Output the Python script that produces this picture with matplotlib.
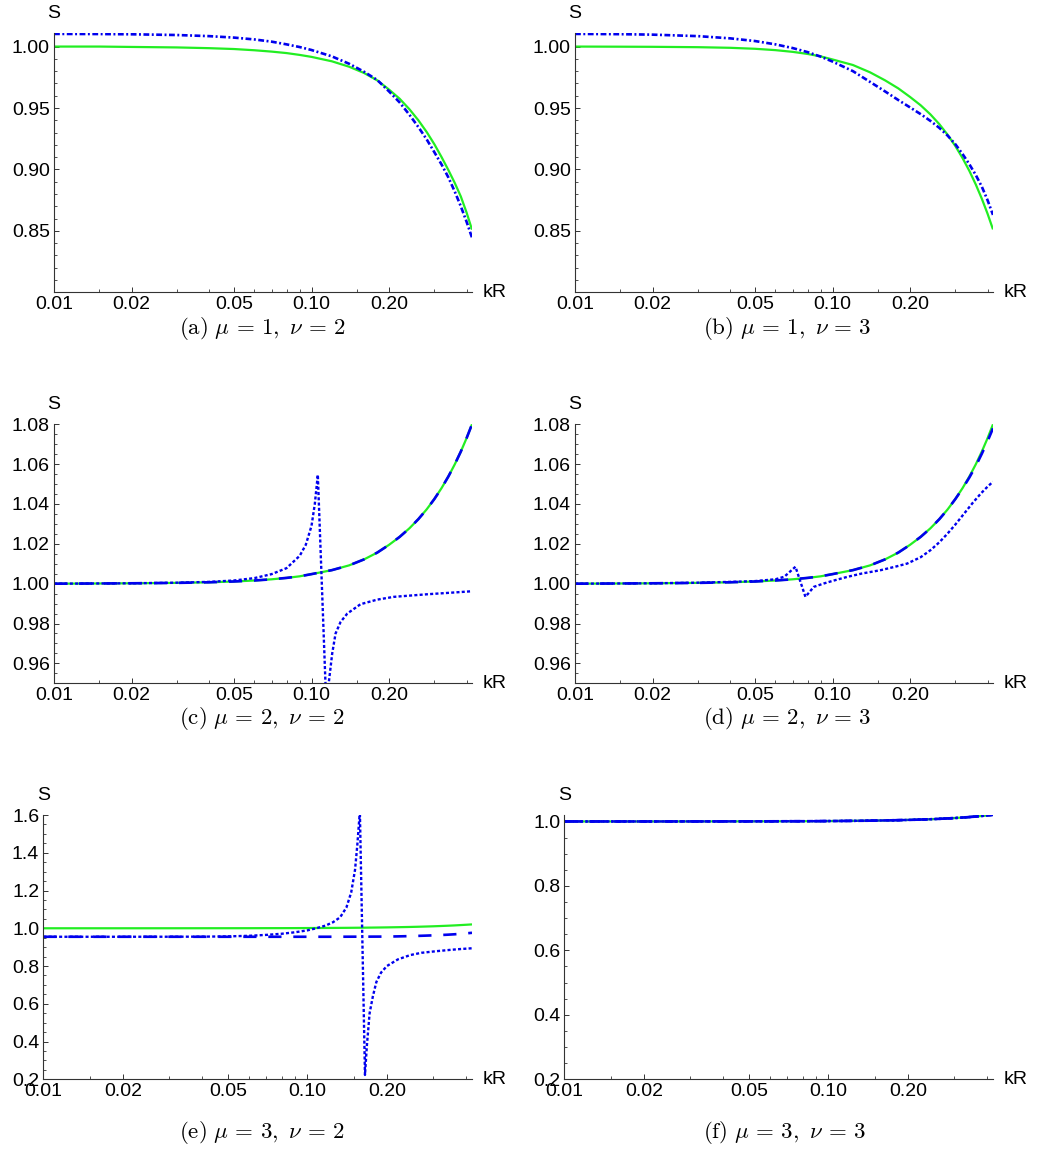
import numpy as np
import matplotlib
matplotlib.use('Agg')
import matplotlib.pyplot as plt
from matplotlib.ticker import FixedLocator, FixedFormatter, MultipleLocator, NullFormatter

plt.rcParams['font.family'] = ['Liberation Sans', 'DejaVu Sans']
plt.rcParams['mathtext.fontset'] = 'cm'
plt.rcParams['lines.scale_dashes'] = False

# common kR grid for the smooth curves
kr = [0.01, 0.015, 0.02, 0.03, 0.04, 0.05, 0.06, 0.07, 0.08, 0.09, 0.10,
      0.12, 0.14, 0.16, 0.18, 0.20, 0.22, 0.24, 0.26, 0.28, 0.30,
      0.32, 0.34, 0.36, 0.38, 0.40, 0.42]

# (a) mu=1, nu=2
exact_a = [1.0000, 1.0000, 0.9997, 0.9993, 0.9987, 0.9980, 0.9970, 0.9959, 0.9947, 0.9932, 0.9916,
           0.9880, 0.9836, 0.9785, 0.9725, 0.9650, 0.9575, 0.9490, 0.9400, 0.9305, 0.9205,
           0.9100, 0.8995, 0.8890, 0.8780, 0.8650, 0.8510]
approx_a = [1.0103, 1.0102, 1.0100, 1.0094, 1.0085, 1.0073, 1.0058, 1.0040, 1.0018, 0.9996, 0.9972,
            0.9920, 0.9860, 0.9795, 0.9728, 0.9635, 0.9545, 0.9445, 0.9345, 0.9245, 0.9140,
            0.9040, 0.8935, 0.8820, 0.8700, 0.8575, 0.8445]

# (b) mu=1, nu=3
exact_b = [1.0000, 0.9999, 0.9998, 0.9995, 0.9990, 0.9982, 0.9971, 0.9957, 0.9940, 0.9920, 0.9895,
           0.9850, 0.9790, 0.9725, 0.9660, 0.9590, 0.9522, 0.9448, 0.9368, 0.9282, 0.9190,
           0.9092, 0.8988, 0.8878, 0.8762, 0.8640, 0.8512]
approx_b = [1.0103, 1.0101, 1.0097, 1.0085, 1.0067, 1.0045, 1.0018, 0.9988, 0.9955, 0.9918, 0.9878,
            0.9800, 0.9712, 0.9635, 0.9565, 0.9505, 0.9450, 0.9395, 0.9338, 0.9275, 0.9205,
            0.9125, 0.9042, 0.8955, 0.8860, 0.8750, 0.8630]

# (c), (d) mu=2
exact_cd = [1.0000, 1.0001, 1.0002, 1.0004, 1.0007, 1.0011, 1.0016, 1.0022, 1.0029, 1.0037, 1.0048,
            1.0068, 1.0092, 1.0122, 1.0156, 1.0195, 1.0235, 1.0278, 1.0324, 1.0373, 1.0425,
            1.0480, 1.0538, 1.0599, 1.0663, 1.0730, 1.0800]
dashed_d = [1.0000, 1.0001, 1.0002, 1.0004, 1.0007, 1.0011, 1.0016, 1.0022, 1.0029, 1.0037, 1.0048,
            1.0068, 1.0092, 1.0122, 1.0156, 1.0195, 1.0235, 1.0278, 1.0324, 1.0373, 1.0425,
            1.0478, 1.0533, 1.0590, 1.0652, 1.0715, 1.0780]

kr_dot_c = [0.01, 0.02, 0.03, 0.04, 0.05, 0.06, 0.07, 0.08, 0.09, 0.095, 0.10, 0.103, 0.1058,
            0.1133, 0.115, 0.1168, 0.1203, 0.124, 0.1297, 0.1377, 0.155, 0.18, 0.209, 0.282, 0.35, 0.42]
dot_c = [1.0000, 1.0002, 1.0005, 1.0009, 1.0016, 1.0028, 1.0048, 1.0078, 1.0140, 1.0195, 1.0290, 1.0400, 1.0547,
         0.9500, 0.9350, 0.9507, 0.9649, 0.9750, 0.9808, 0.9850, 0.9897, 0.9920, 0.9934, 0.9947, 0.9955, 0.9962]

kr_dot_d = [0.01, 0.02, 0.03, 0.04, 0.05, 0.06, 0.065, 0.0718, 0.0785, 0.0846, 0.0925, 0.10, 0.114,
            0.13, 0.154, 0.175, 0.195, 0.22, 0.24, 0.26, 0.28, 0.30, 0.325, 0.35, 0.377, 0.40, 0.42]
dot_d = [1.0000, 1.0002, 1.0005, 1.0009, 1.0013, 1.0022, 1.0035, 1.0085, 0.9934, 0.9984, 1.0001, 1.0014, 1.0034,
         1.0051, 1.0068, 1.0085, 1.0101, 1.0133, 1.0168, 1.0208, 1.0252, 1.0297, 1.0353, 1.0405, 1.0453, 1.0487, 1.0512]

# (e), (f) mu=3
exact_ef = [1.0000, 1.0000, 1.0000, 1.0001, 1.0002, 1.0003, 1.0004, 1.0006, 1.0007, 1.0009, 1.0012,
            1.0017, 1.0023, 1.0030, 1.0038, 1.0047, 1.0057, 1.0067, 1.0079, 1.0092, 1.0105,
            1.0120, 1.0135, 1.0151, 1.0169, 1.0187, 1.0205]
dashed_e = [0.9550, 0.9550, 0.9550, 0.9550, 0.9550, 0.9550, 0.9550, 0.9550, 0.9550, 0.9550, 0.9550,
            0.9551, 0.9553, 0.9555, 0.9558, 0.9560, 0.9570, 0.9582, 0.9595, 0.9610, 0.9625,
            0.9642, 0.9660, 0.9681, 0.9705, 0.9731, 0.9760]

kr_dot_e = [0.01, 0.02, 0.03, 0.04, 0.05, 0.06, 0.07, 0.08, 0.09, 0.10, 0.108, 0.117, 0.125, 0.133,
            0.1405, 0.1465, 0.1515, 0.1545, 0.158, 0.1652, 0.168, 0.172, 0.177, 0.1824, 0.19, 0.20,
            0.22, 0.245, 0.27, 0.31, 0.35, 0.38, 0.42]
dot_e = [0.9550, 0.9550, 0.9552, 0.9556, 0.9570, 0.9600, 0.9650, 0.9710, 0.9790, 0.9890, 1.0000, 1.0140, 1.0320, 1.0580,
         1.1100, 1.1900, 1.3100, 1.4400, 1.6200, 0.2230, 0.3800, 0.5500, 0.6400, 0.7150, 0.7650, 0.8000,
         0.8350, 0.8580, 0.8700, 0.8790, 0.8860, 0.8900, 0.8940]

x_major = [0.01, 0.02, 0.05, 0.10, 0.20]
x_labels = ['0.01', '0.02', '0.05', '0.10', '0.20']
x_minor = [0.015, 0.03, 0.04, 0.06, 0.07, 0.08, 0.09, 0.15, 0.3, 0.4]

captions = [r'$\mathrm{(a)}\ \mu\,=\,1,\ \nu\,=\,2$', r'$\mathrm{(b)}\ \mu\,=\,1,\ \nu\,=\,3$',
            r'$\mathrm{(c)}\ \mu\,=\,2,\ \nu\,=\,2$', r'$\mathrm{(d)}\ \mu\,=\,2,\ \nu\,=\,3$',
            r'$\mathrm{(e)}\ \mu\,=\,3,\ \nu\,=\,2$', r'$\mathrm{(f)}\ \mu\,=\,3,\ \nu\,=\,3$']

GREEN = '#22ee22'
BLUE = '#0000ee'
W, H = 1038, 1152

fig = plt.figure(figsize=(W / 100, H / 100), dpi=100)


def add_panel(left, right, top, bottom):
    return fig.add_axes([left / W, 1 - bottom / H, (right - left) / W, (bottom - top) / H])


def style(ax, ylim, yticks, fmt, ystep):
    ax.set_xscale('log')
    ax.set_xlim(0.01, 0.42)
    ax.set_ylim(*ylim)
    ax.xaxis.set_major_locator(FixedLocator(x_major))
    ax.xaxis.set_major_formatter(FixedFormatter(x_labels))
    ax.xaxis.set_minor_locator(FixedLocator(x_minor))
    ax.xaxis.set_minor_formatter(NullFormatter())
    ax.yaxis.set_major_locator(FixedLocator(yticks))
    ax.yaxis.set_major_formatter(FixedFormatter([fmt.format(v) for v in yticks]))
    ax.yaxis.set_minor_locator(MultipleLocator(ystep))
    for s in ['top', 'right']:
        ax.spines[s].set_visible(False)
    for s in ['left', 'bottom']:
        ax.spines[s].set_linewidth(0.8)
        ax.spines[s].set_color('#333333')
    ax.tick_params(which='major', direction='in', length=3.6, width=0.7, labelsize=14, color='#333333')
    ax.tick_params(which='minor', direction='in', length=2.2, width=0.6, color='#333333')
    ax.tick_params(axis='x', which='major', pad=3)
    ax.tick_params(axis='y', which='major', pad=3)
    ax.annotate('S', xy=(0, 1), xycoords='axes fraction', xytext=(0, 20), textcoords='offset pixels',
                ha='center', va='center', fontsize=14)
    ax.annotate('kR', xy=(1, 0), xycoords='axes fraction', xytext=(11, 0), textcoords='offset pixels',
                ha='left', va='center', fontsize=14)
    ax.patch.set_alpha(0)


def green(ax, x, y):
    ax.plot(x, y, color=GREEN, lw=1.6, solid_capstyle='butt')


def dashed(ax, x, y):
    ax.plot(x, y, color=BLUE, lw=1.9, dashes=(9.5, 8.5), dash_capstyle='butt')


def dotted(ax, x, y):
    ax.plot(x, y, color=BLUE, lw=1.7, dashes=(2.2, 1.6), dash_capstyle='butt')


def dashdot(ax, x, y):
    ax.plot(x, y, color=BLUE, lw=1.9, dashes=(4.2, 1.8, 1.4, 1.8), dash_capstyle='butt')


# (a)
ax = add_panel(54, 472, 33.3, 292.3)
green(ax, kr, exact_a)
dashdot(ax, kr, approx_a)
style(ax, (0.80, 1.0108), [0.85, 0.90, 0.95, 1.00], '{:.2f}', 0.01)

# (b)
ax = add_panel(575, 993, 33.3, 292.3)
green(ax, kr, exact_b)
dashdot(ax, kr, approx_b)
style(ax, (0.80, 1.0108), [0.85, 0.90, 0.95, 1.00], '{:.2f}', 0.01)

# (c)
ax = add_panel(54, 472, 424.3, 683.3)
green(ax, kr, exact_cd)
dashed(ax, kr, exact_cd)
dotted(ax, kr_dot_c, dot_c)
style(ax, (0.95, 1.08), [0.96, 0.98, 1.00, 1.02, 1.04, 1.06, 1.08], '{:.2f}', 0.005)

# (d)
ax = add_panel(575, 993, 424.3, 683.3)
green(ax, kr, exact_cd)
dashed(ax, kr, dashed_d)
dotted(ax, kr_dot_d, dot_d)
style(ax, (0.95, 1.08), [0.96, 0.98, 1.00, 1.02, 1.04, 1.06, 1.08], '{:.2f}', 0.005)

# (e)
ax = add_panel(43.3, 472, 815, 1079.3)
green(ax, kr, exact_ef)
dashed(ax, kr, dashed_e)
dotted(ax, kr_dot_e, dot_e)
style(ax, (0.2, 1.6), [0.2, 0.4, 0.6, 0.8, 1.0, 1.2, 1.4, 1.6], '{:.1f}', 0.05)

# (f)
ax = add_panel(564.3, 993, 815, 1079.3)
green(ax, kr, exact_ef)
dashed(ax, kr, exact_ef)
dotted(ax, kr, exact_ef)
dashdot(ax, kr, exact_ef)
style(ax, (0.2, 1.02), [0.2, 0.4, 0.6, 0.8, 1.0], '{:.1f}', 0.05)

cap_pos = [(262, 328), (787, 328), (262, 718), (787, 718), (262, 1133), (784, 1133)]
for (cx, cy), txt in zip(cap_pos, captions):
    fig.text(cx / W, 1 - cy / H, txt, ha='center', va='center', fontsize=16.5)

fig.savefig('out.png', dpi=100)
